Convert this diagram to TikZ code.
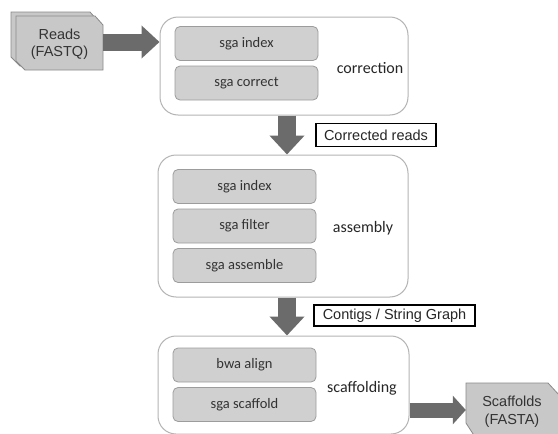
\documentclass[tikz,border=0pt]{standalone}
\usepackage{fontspec}
\setmainfont{Liberation Sans}
\newfontfamily\carlito{Carlito}
\usetikzlibrary{arrows.meta}

\definecolor{flowgray}{HTML}{6B6B6B}
\definecolor{boxgray}{HTML}{D0D0D0}
\definecolor{boxedge}{HTML}{9C9C9C}
\definecolor{docfill}{HTML}{C8C8C8}
\definecolor{docedge}{HTML}{8A8A8A}
\definecolor{stageedge}{HTML}{B4B4B4}

\tikzset{
	stage/.style={draw=stageedge, line width=1pt, rounded corners=18pt},
	tool/.style={draw=boxedge, fill=boxgray, line width=0.8pt, rounded corners=5pt,
		minimum width=143pt, minimum height=34pt, inner sep=0pt,
		font=\carlito\fontsize{14.5}{17}\selectfont, text=black!80},
	stagename/.style={font=\carlito\fontsize{16}{19}\selectfont, text=black!85},
	tag/.style={draw=black, line width=1.2pt, inner sep=0pt, minimum height=23pt,
		font=\fontsize{14.5}{17}\selectfont, text=black!85},
	doc/.style={fill=docfill, draw=docedge, line width=0.8pt},
	doclabel/.style={align=center, inner sep=0pt, font=\fontsize{14.5}{17.5}\selectfont, text=black!80},
	flow/.style={draw=flowgray, line width=#1, -{Triangle[length=19pt,width=34pt]}},
	flow/.default=18pt
}

\begin{document}
\begin{tikzpicture}[x=1pt,y=-1pt]
	\fill[white] (0,0) rectangle (558,434);
	\clip (0,0) rectangle (558,434);

	% input reads
	\draw[doc] (11,12) -- (90,12) -- (98,21) -- (98,66) -- (20,66) -- (11,57) -- cycle;
	\draw[doc] (16,16) -- (95,16) -- (103,25) -- (103,70) -- (25,70) -- (16,61) -- cycle;
	\node[doclabel, minimum width=87pt, minimum height=54pt] (reads) at (59.5,44) {Reads\\(FASTQ)};

	% correction
	\node[stage, minimum width=248pt, minimum height=98pt] (corr) at (284,66) {};
	\node[tool] (corrindex) at (246.5,43.5) {sga index};
	\node[tool] (corrcorrect) at (246.5,83) {sga correct};
	\node[stagename] (corrname) at (370,68) {correction};

	% assembly
	\node[stage, minimum width=250pt, minimum height=142pt] (asm) at (283,226) {};
	\node[tool] (asmindex) at (244.5,186.5) {sga index};
	\node[tool] (asmfilter) at (244.5,226) {sga filter};
	\node[tool] (asmassemble) at (244.5,265.5) {sga assemble};
	\node[stagename] (asmname) at (363,228) {assembly};

	% scaffolding
	\node[stage, minimum width=251pt, minimum height=98pt] (scaf) at (283.5,385) {};
	\node[tool] (scafalign) at (244.5,365) {bwa align};
	\node[tool] (scafscaffold) at (244.5,404.5) {sga scaffold};
	\node[stagename] (scafname) at (362,388) {scaffolding};

	% output scaffolds
	\draw[doc] (466,383) -- (548,383) -- (560,396) -- (560,440) -- (477,440) -- (466,423) -- cycle;
	\node[doclabel, minimum width=92pt, minimum height=40pt] (scaffolds) at (512,411.5) {Scaffolds\\(FASTA)};

	% intermediate data
	\node[tag, minimum width=120pt] (corrected) at (376,135) {Corrected reads};
	\node[tag, minimum width=161pt, minimum height=21pt] (contigs) at (394.5,315.5) {Contigs / String Graph};

	% flow arrows
	\draw[flow=17pt, -{Triangle[length=18pt,width=32pt]}] ([yshift=2pt]reads.east) -- ([yshift=2pt]reads.east -| corr.west);
	\draw[flow] ([xshift=3pt]corr.south) -- ([xshift=3pt]corr.south |- asm.north);
	\draw[flow] ([xshift=4pt]asm.south) -- ([xshift=4pt]asm.south |- scaf.north);
	\draw[flow=15pt, -{Triangle[length=13pt,width=28pt]}] (scaf.east |- 0,410) -- (scaffolds.west |- 0,410);
\end{tikzpicture}
\end{document}
